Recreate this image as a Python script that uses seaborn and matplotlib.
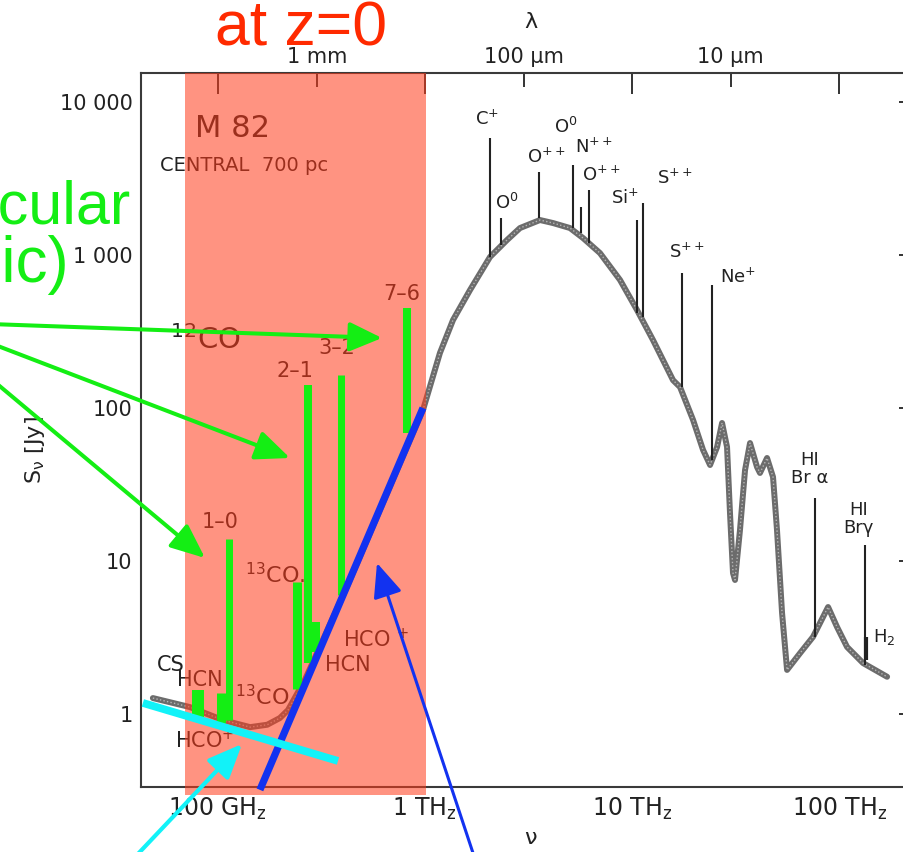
import matplotlib
matplotlib.use("Agg")
import matplotlib.pyplot as plt
import matplotlib.transforms as mtransforms
from matplotlib.patches import Rectangle, FancyArrowPatch
from matplotlib.ticker import FixedLocator, FixedFormatter, NullFormatter
import numpy as np
import pandas as pd
import seaborn as sns

# ---------------- data ----------------
# continuum SED of M82 (frequency in GHz, flux density in Jy)
sed_freq_ghz = [48.5, 73, 106, 143, 173, 199, 218, 263, 434, 716,
                978, 1181, 1366, 1650, 2061, 2490, 2877, 3593, 4152, 5016,
                5800, 7000, 8750, 10570, 12630, 15780, 17060, 19720, 22030, 23820,
                25760, 27220, 28770, 29730, 30740, 31440, 33220, 35150, 37150, 40160,
                41500, 44890, 47980, 50150, 53050, 56080, 64850, 74860, 88500, 97800,
                109300, 130600, 170600]
sed_flux_jy = [1.27, 1.11, 0.91, 0.82, 0.85, 0.94, 1.06, 1.67, 7.5, 36.5,
               97, 229, 376, 590, 971, 1253, 1501, 1693, 1618, 1501,
               1291, 1030, 687, 437, 278, 152, 137, 83.5, 53.2, 42.4,
               55.6, 79.8, 55.6, 20.6, 8.35, 7.51, 15.9, 39.3, 59.0, 41.1,
               37.6, 47.1, 35.4, 15.9, 4.57, 1.94, 2.50, 3.19, 5.0, 3.70,
               2.74, 2.15, 1.75]

# molecular lines (green bars)
mol_names = ["CS/HCN", "HCO+/13CO", "12CO 1-0", "13CO 2-1", "12CO 2-1",
             "HCN/HCO+", "12CO 3-2", "12CO 7-6"]
mol_freq_ghz = [80.0, 103.4, 113.6, 242, 272, 297, 395, 818]
mol_flux_low = [0.91, 0.87, 0.91, 1.46, 2.15, 2.54, 6.0, 68.7]
mol_flux_high = [1.44, 1.37, 13.9, 7.29, 141, 4.0, 164, 450]

# atomic / ionic fine-structure and recombination lines (black)
atom_labels = ["C$^{+}$", "O$^{0}$", "O$^{++}$", "O$^{0}$", "N$^{++}$", "O$^{++}$",
               "Si$^{+}$", "S$^{++}$", "S$^{++}$", "Ne$^{+}$", "HI\nBr α", "HI\nBrγ"]
atom_freq_ghz = [2061, 2328, 3554, 5188, 5671, 6199, 10570, 11300, 17450, 24340, 76560, 133600]
atom_flux_low = [971, 1162, 1746, 1501, 1393, 1198, 418, 393, 137, 45.7, 3.19, 2.09]
atom_flux_high = [5820, 1746, 3487, 3873, 2059, 2660, 1693, 2188, 763, 637, 25.8, 12.7]
h2_freq_ghz = [134500]
h2_flux = [2.25, 3.19]

# overlay lines: dust (blue) and free-free/synchrotron (cyan)
dust_freq_ghz = [159.5, 978]
dust_flux_jy = [0.319, 100]
ff_freq_ghz = [43.4, 380]
ff_flux_jy = [1.18, 0.493]

# highlighted (sub)mm band
band_ghz = [69.3, 1011]

# axis ticks
y_ticks = [1, 10, 100, 1000, 10000]
y_ticklabels = ["1", "10", "100", "1 000", "10 000"]
x_major = [100, 1000, 10000, 100000]
x_major_labels = ["100 GH$_{z}$", "1 TH$_{z}$", "10 TH$_{z}$", "100 TH$_{z}$"]
x_minor = [300, 3000, 30000]
lam_ticks_um = [1000, 100, 10]
lam_labels = ["1 mm", "100 µm", "10 µm"]

# ---------------- style ----------------
sns.set_theme(style="white")
plt.rcParams["font.family"] = ["DejaVu Sans"]
plt.rcParams["mathtext.default"] = "regular"

W, H = 904, 852
fig = plt.figure(figsize=(W / 100, H / 100), dpi=100)
L, R, T, B = 141, 920, 73, 787
ax = fig.add_axes([L / W, 1 - B / H, (R - L) / W, (B - T) / H])
ax.set_xscale("log")
ax.set_yscale("log")
ax.set_xlim(42.5, 2.46e5)
ax.set_ylim(0.333, 15480)

ink = "#222222"
for s in ax.spines.values():
    s.set_color("#3a3a3a")
    s.set_linewidth(1.5)

# SED continuum (stippled grey)
sed = pd.DataFrame({"freq": sed_freq_ghz, "flux": sed_flux_jy})
sns.lineplot(data=sed, x="freq", y="flux", sort=False, estimator=None, ax=ax,
             color="#6c6c6c", lw=4.3, zorder=2)
ax.plot(sed["freq"], sed["flux"], color="white", lw=1.0, ls=(0, (1, 1.6)),
        alpha=0.5, zorder=2.1)

# atomic lines
ax.vlines(atom_freq_ghz, atom_flux_low, atom_flux_high, colors=ink, lw=1.5, zorder=3)
ax.vlines(h2_freq_ghz, h2_flux[0], h2_flux[1], colors=ink, lw=3, zorder=3)

offs = [(-2, 7), (4, 3.5), (5, 3.5), (-5, 20), (9, 36), (9, 3.5), (-9, 9),
        (23, 11), (3.6, 8), (6, -1.5), (-4, 8), (-5, 6)]
for lab, f, top, (dx, dy) in zip(atom_labels, atom_freq_ghz, atom_flux_high, offs):
    ha = "left" if lab.startswith("Ne") else "center"
    ax.annotate(lab, (f, top), xytext=(dx, dy), textcoords="offset points",
                ha=ha, va="bottom", fontsize=13, color=ink, zorder=3,
                linespacing=1.0, multialignment="center")
ax.annotate("H$_{2}$", (h2_freq_ghz[0], h2_flux[1]), xytext=(5, 0),
            textcoords="offset points", ha="left", va="center", fontsize=13,
            color=ink, zorder=3)

# molecular labels (under the red band)
txt = dict(color=ink, zorder=3, va="center")
ax.text(77.4, 6665, "M 82", fontsize=22, ha="left", **txt)
ax.text(52.5, 3873, "CENTRAL  700 pc", fontsize=14, ha="left", **txt)
ax.text(58.6, 278, "$^{12}$CO", fontsize=21, ha="left", **txt)
ax.text(135, 8.1, "$^{13}$CO.", fontsize=16, ha="left", **txt)
ax.text(402, 3.05, "HCO $^{+}$", fontsize=15, ha="left", **txt)
ax.text(329, 2.09, "HCN", fontsize=15, ha="left", **txt)
ax.text(50.7, 2.09, "CS", fontsize=15, ha="left", **txt)
ax.text(63.4, 1.67, "HCN", fontsize=15, ha="left", **txt)
ax.text(120.8, 1.29, "$^{13}$CO", fontsize=16, ha="left", **txt)
ax.text(62.0, 0.676, "HCO$^{+}$", fontsize=15, ha="left", **txt)
for i, lab, (dx, dy) in [(2, "1–0", (-7, 5)), (4, "2–1", (-9, 3)),
                         (6, "3–2", (-3, 12)), (7, "7–6", (-4, 3))]:
    ax.annotate(lab, (mol_freq_ghz[i], mol_flux_high[i]), xytext=(dx, dy),
                textcoords="offset points", ha="center", va="bottom",
                fontsize=15, color=ink, zorder=3)

# red translucent band
trans = mtransforms.blended_transform_factory(ax.transData, ax.transAxes)
ax.add_patch(Rectangle((band_ghz[0], -0.011), band_ghz[1] - band_ghz[0], 1.011,
                       transform=trans, facecolor="#ff3a1a", alpha=0.55,
                       edgecolor="none", zorder=4, clip_on=False))

# green molecular bars
widths_px = [12, 9, 7, 9, 8, 8, 7, 8]
ax.vlines(mol_freq_ghz, mol_flux_low, mol_flux_high, colors="#14ee14",
          linewidths=[w * 0.72 for w in widths_px], capstyle="butt", zorder=5)

# dust and free-free lines
ax.plot(dust_freq_ghz, dust_flux_jy, color="#1232f0", lw=5.2,
        solid_capstyle="butt", zorder=5, clip_on=False)
ax.plot(ff_freq_ghz, ff_flux_jy, color="#12f2f8", lw=5.6,
        solid_capstyle="butt", zorder=5, clip_on=False)

# ticks
ax.yaxis.set_major_locator(FixedLocator(y_ticks))
ax.yaxis.set_major_formatter(FixedFormatter(y_ticklabels))
ax.yaxis.set_minor_locator(FixedLocator([]))
ax.xaxis.set_major_locator(FixedLocator(x_major))
ax.xaxis.set_major_formatter(FixedFormatter(x_major_labels))
ax.xaxis.set_minor_locator(FixedLocator(x_minor))
ax.xaxis.set_minor_formatter(NullFormatter())
ax.tick_params(axis="both", which="major", direction="in", color="#333333",
               width=1.4, top=True, right=True, labelcolor=ink)
ax.tick_params(axis="x", which="major", length=15, labelsize=17, pad=6)
ax.tick_params(axis="x", which="minor", direction="in", length=10, width=1.4,
               top=True, color="#333333")
ax.tick_params(axis="y", which="major", length=15, labelsize=15, pad=6)
ax.set_xlabel("ν", fontsize=16, color=ink, labelpad=5)
ax.set_ylabel("S$_{ν}$ [Jy]", fontsize=16, color=ink)
ax.yaxis.set_label_coords(-0.121, 0.472)

# wavelength axis on top
sec = ax.secondary_xaxis("top", functions=(lambda f: 3e5 / np.asarray(f, float),
                                           lambda l: 3e5 / np.asarray(l, float)))
sec.xaxis.set_major_locator(FixedLocator(lam_ticks_um))
sec.xaxis.set_major_formatter(FixedFormatter(lam_labels))
sec.xaxis.set_minor_locator(FixedLocator([]))
sec.tick_params(length=0, labelsize=15, pad=4, labelcolor=ink)
sec.spines["top"].set_visible(False)
sec.set_xlabel("λ", fontsize=16, color=ink, labelpad=14)

# annotations in figure pixels
def fp(x, y):
    return (x / W, 1 - y / H)

def arrow(p0, p1, color, lw, hl, hw):
    fig.add_artist(FancyArrowPatch(fp(*p0), fp(*p1), transform=fig.transFigure,
                                   arrowstyle=f"-|>,head_length={hl},head_width={hw}",
                                   color=color, lw=lw, shrinkA=0, shrinkB=0,
                                   zorder=6, mutation_scale=1))

green = "#14ee14"
arrow((-10, 324), (382, 338), green, 2.9, 20, 9)
arrow((-10, 343), (290, 458), green, 2.9, 21, 9)
arrow((-10, 378), (205, 558), green, 2.9, 21, 9)
arrow((136, 856), (242, 744), "#12f2f8", 3.0, 21, 9)
arrow((474, 856), (377, 563), "#1232f0", 2.2, 21, 9)

fig.text(*fp(215, 45), "at z=0", fontsize=45, color="#ff2a00", ha="left",
         va="baseline", family=["Liberation Sans", "DejaVu Sans"])
fig.text(*fp(130, 224), "Molecular", fontsize=44, color=green, ha="right",
         va="baseline", family=["Liberation Sans", "DejaVu Sans"])
fig.text(*fp(69, 282), "(and atomic)", fontsize=46, color=green, ha="right",
         va="baseline", family=["Liberation Sans", "DejaVu Sans"])

fig.savefig("out.png", dpi=100)
